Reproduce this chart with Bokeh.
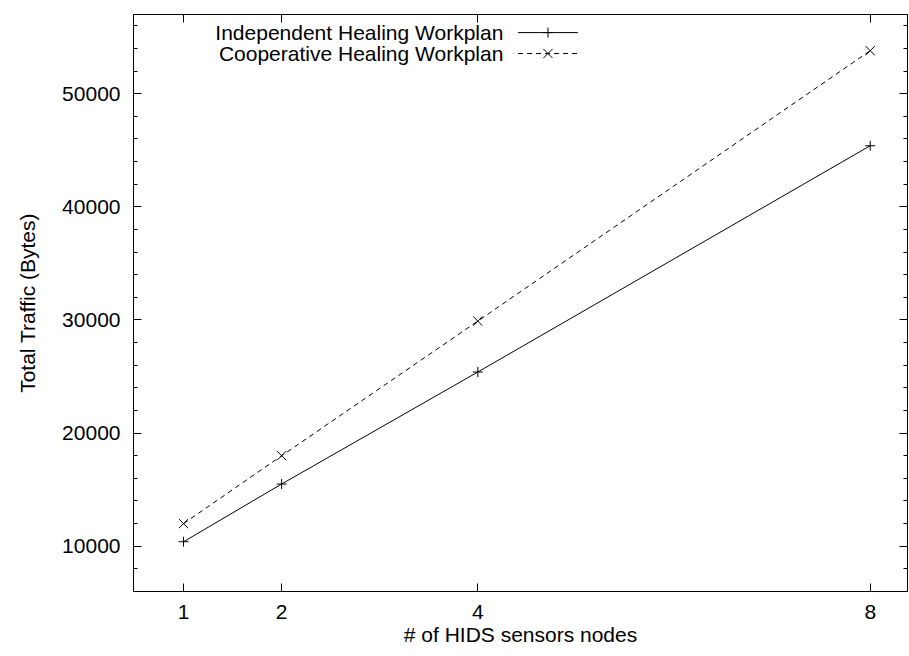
from bokeh.plotting import figure
from bokeh.models import (Range1d, FixedTicker, SingleIntervalTicker, LinearAxis,
                          Label)
from bokeh.embed import file_html
from bokeh.resources import INLINE

# Number of HIDS sensor nodes and total traffic (bytes) per workplan
nodes = [1, 2, 4, 8]
independent = [10400, 15500, 25400, 45400]
cooperative = [12000, 18000, 29900, 53800]

x_ticks = [1, 2, 4, 8]
y_ticks = [10000, 20000, 30000, 40000, 50000]
series_names = ["Independent Healing Workplan", "Cooperative Healing Workplan"]

FONT = "Liberation Sans"
FSIZE = "21px"

p = figure(width=909, height=656, output_backend="svg", toolbar_location=None,
           x_range=Range1d(0.49, 8.38), y_range=Range1d(6000, 57000),
           min_border_left=133, min_border_right=2, min_border_top=14,
           min_border_bottom=65)
p.outline_line_color = "black"
p.outline_line_width = 1
p.grid.visible = False
p.background_fill_color = "white"
p.border_fill_color = "white"


def style_axis(ax):
    ax.axis_line_color = "black"
    ax.major_tick_in = 8
    ax.major_tick_out = 0
    ax.minor_tick_in = 4
    ax.minor_tick_out = 0
    ax.major_tick_line_color = "black"
    ax.minor_tick_line_color = "black"
    ax.major_label_text_font = FONT
    ax.major_label_text_font_size = FSIZE
    ax.major_label_text_color = "black"
    ax.axis_label_text_font = FONT
    ax.axis_label_text_font_size = FSIZE
    ax.axis_label_text_font_style = "normal"
    ax.axis_label_text_color = "black"


xa = p.xaxis[0]
xa.ticker = FixedTicker(ticks=x_ticks, minor_ticks=[])
xa.axis_label = "# of HIDS sensors nodes"
style_axis(xa)
xa.major_label_standoff = 13
xa.axis_label_standoff = 1

ya = p.yaxis[0]
ya.ticker = SingleIntervalTicker(interval=10000, num_minor_ticks=5)
ya.axis_label = "Total Traffic (Bytes)"
style_axis(ya)
ya.major_label_standoff = 13
ya.axis_label_standoff = 20

# Mirrored ticks (no labels) on the top and right edges
top = LinearAxis(ticker=FixedTicker(ticks=x_ticks, minor_ticks=[]))
style_axis(top)
top.major_label_overrides = {t: "" for t in x_ticks}
top.major_label_text_font_size = "1px"
top.major_label_standoff = 0
p.add_layout(top, "above")

right = LinearAxis(ticker=SingleIntervalTicker(interval=10000, num_minor_ticks=5))
style_axis(right)
right.major_label_overrides = {t: "" for t in y_ticks}
right.major_label_text_font_size = "1px"
right.major_label_standoff = 0
p.add_layout(right, "right")

# Data series
p.line(nodes, independent, line_color="black", line_width=1)
p.scatter(nodes, independent, marker="cross", size=10, line_color="black",
          line_width=1)
p.line(nodes, cooperative, line_color="black", line_width=1, line_dash="5 4")
p.scatter(nodes, cooperative, marker="x", size=13, line_color="black",
          line_width=1)

# Key in the gnuplot style: text on the left, sample on the right
key_text_x = 4.26
key_x0, key_x1 = 4.41, 5.02
key_y = [55400, 53550]
dashes = ["solid", "5 4"]
markers = ["cross", "x"]
marker_sizes = [10, 13]
for name, ky, dash, mk, ms in zip(series_names, key_y, dashes, markers,
                                  marker_sizes):
    p.add_layout(Label(x=key_text_x, y=ky, text=name, text_align="right",
                       text_baseline="middle", text_font=FONT,
                       text_font_size=FSIZE, text_color="black"))
    p.line([key_x0, key_x1], [ky, ky], line_color="black", line_width=1,
           line_dash=dash)
    p.scatter([(key_x0 + key_x1) / 2], [ky], marker=mk, size=ms,
              line_color="black", line_width=1)

open("out.html", "w").write(file_html(p, INLINE))
